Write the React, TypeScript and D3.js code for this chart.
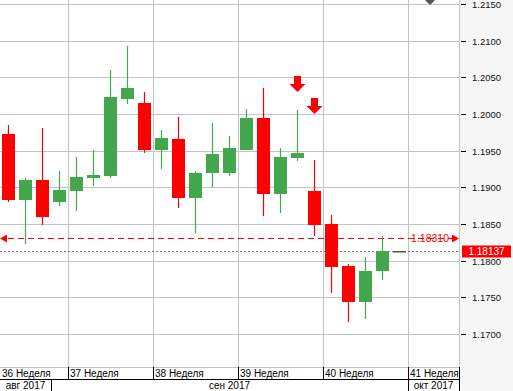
import * as d3 from "d3";

// daily EUR/USD candles, 29 aug - 29 sep 2017
const dates = [
  "2017-08-29", "2017-08-30", "2017-08-31", "2017-09-01",
  "2017-09-04", "2017-09-05", "2017-09-06", "2017-09-07", "2017-09-08",
  "2017-09-11", "2017-09-12", "2017-09-13", "2017-09-14", "2017-09-15",
  "2017-09-18", "2017-09-19", "2017-09-20", "2017-09-21", "2017-09-22",
  "2017-09-25", "2017-09-26", "2017-09-27", "2017-09-28", "2017-09-29",
];
const futureSlots = ["2017-10-02", "2017-10-03", "2017-10-04"];

const opens = [1.1973, 1.1883, 1.1910, 1.1880, 1.1895, 1.1913, 1.1915, 1.2020, 1.2015, 1.1951, 1.1966, 1.1885, 1.1919, 1.1919, 1.1951, 1.1995, 1.1891, 1.1940, 1.1895, 1.1850, 1.1793, 1.1744, 1.1786, 1.18137];
const closes = [1.1883, 1.1910, 1.1859, 1.1896, 1.1914, 1.1917, 1.2023, 1.2036, 1.1951, 1.1967, 1.1885, 1.1920, 1.1946, 1.1954, 1.1995, 1.1891, 1.1941, 1.1947, 1.1848, 1.1792, 1.1744, 1.1786, 1.18137, 1.18137];
const highs = [1.1985, 1.1913, 1.1981, 1.1922, 1.1941, 1.1951, 1.2060, 1.2093, 1.2030, 1.1978, 1.1996, 1.1922, 1.1988, 1.1970, 1.2007, 1.2036, 1.1954, 1.2006, 1.1937, 1.1862, 1.1796, 1.1805, 1.1834, 1.18137];
const lows = [1.1880, 1.1823, 1.1849, 1.1874, 1.1868, 1.1902, 1.1913, 1.2014, 1.1947, 1.1925, 1.1872, 1.1838, 1.1900, 1.1915, 1.1951, 1.1861, 1.1865, 1.1936, 1.1833, 1.1756, 1.1717, 1.1721, 1.1773, 1.18137];

const priceTicks = [1.1700, 1.1750, 1.1800, 1.1850, 1.1900, 1.1950, 1.2000, 1.2050, 1.2100, 1.2150];

const weekStarts = ["2017-08-29", "2017-09-04", "2017-09-11", "2017-09-18", "2017-09-25", "2017-10-02"];
const weekLabels = ["36 Неделя", "37 Неделя", "38 Неделя", "39 Неделя", "40 Неделя", "41 Неделя"];
const monthStarts = ["2017-08-29", "2017-09-01", "2017-10-02"];
const monthLabels = ["авг 2017", "сен 2017", "окт 2017"];

// sell signals (arrow tip price)
const signalDates = ["2017-09-21", "2017-09-22"];
const signalPrices = [1.2030, 1.2000];

const levelPrice = 1.1831;
const levelLabel = "1.18310";
const lastPrice = 1.18137;
const lastLabel = "1.18137";

const W = 513;
const H = 391;
const plotW = 459;
const plotH = 367;
const rowH = 12;

const UP = "#43a84d";
const DOWN = "#ff0000";
const GRID = "#c4c4c4";
const FONT = "'Liberation Sans', Arial, sans-serif";

export default function App() {
  const x = d3.scaleBand<string>().domain([...dates, ...futureSlots]).range([0, plotW]);
  const y = d3.scaleLinear().domain([1.17, 1.215]).range([334, 4]);
  const step = x.step();
  const bodyW = 13;
  const cx = (d: string) => Math.floor((x(d) as number) + step / 2);

  const edge = (i: number, starts: string[]) =>
    i < starts.length ? (i === 0 ? 0 : (x(starts[i]) as number)) : plotW;

  const ly = Math.round(y(levelPrice)) + 0.5;
  const py = Math.round(y(lastPrice)) + 0.5;

  return (
    <svg width={W} height={H} style={{ position: "absolute", left: 0, top: 0, display: "block" }} fontFamily={FONT}>
      <rect x={0} y={0} width={W} height={H} fill="#ffffff" />
      <rect x={plotW + 1} y={0} width={W - plotW - 1} height={H} fill="#f7f7f7" />

      {/* grid */}
      {priceTicks.map((t) => (
        <line key={t} x1={0} x2={plotW} y1={Math.round(y(t)) + 0.5} y2={Math.round(y(t)) + 0.5} stroke={GRID} />
      ))}
      {weekStarts.slice(1).map((d) => (
        <line key={d} x1={(x(d) as number) + 0.5} x2={(x(d) as number) + 0.5} y1={0} y2={plotH} stroke={GRID} />
      ))}
      <line x1={plotW + 0.5} x2={plotW + 0.5} y1={0} y2={plotH} stroke={GRID} />

      {/* reference lines */}
      <line x1={0} x2={plotW} y1={py} y2={py} stroke="#777" strokeDasharray="2,2" />
      <line x1={8} x2={452} y1={ly} y2={ly} stroke={DOWN} strokeDasharray="6,4" />
      <path d={`M0,${ly}L7,${ly - 4}L7,${ly + 4}Z`} fill={DOWN} />
      <path d={`M${plotW},${ly}L${plotW - 7},${ly - 4}L${plotW - 7},${ly + 4}Z`} fill={DOWN} />
      <text x={449} y={ly} dy="0.35em" textAnchor="end" fontSize={10.5} fill={DOWN}>{levelLabel}</text>

      {/* candles */}
      {dates.map((d, i) => {
        const o = opens[i], c = closes[i];
        const doji = o === c;
        const col = doji ? "#555" : c > o ? UP : DOWN;
        const xc = cx(d);
        const top = Math.round(y(Math.max(o, c)));
        const bot = Math.round(y(Math.min(o, c)));
        return (
          <g key={d}>
            {!doji && (
              <line x1={xc + 0.5} x2={xc + 0.5} y1={Math.round(y(highs[i]))} y2={Math.round(y(lows[i]))} stroke={col} strokeWidth={1.2} />
            )}
            <rect
              x={xc - 6}
              y={top}
              width={bodyW}
              height={Math.max(bot - top, doji ? 1.5 : 2)}
              fill={col}
            />
          </g>
        );
      })}

      {/* signal arrows */}
      {signalDates.map((d, i) => {
        const xc = cx(d) + 0.5;
        const tip = y(signalPrices[i]);
        return (
          <path
            key={d}
            d={`M${xc - 3.5},${tip - 16}H${xc + 3.5}V${tip - 8}H${xc + 8}L${xc},${tip}L${xc - 8},${tip - 8}H${xc - 3.5}Z`}
            fill={DOWN}
          />
        );
      })}

      {/* scroll marker */}
      <path d="M425,0H435L430,5Z" fill="#555" />

      {/* price axis */}
      {priceTicks.map((t) => (
        <g key={t} transform={`translate(0,${Math.round(y(t)) + 0.5})`}>
          <line x1={461} x2={466} stroke="#000" />
          <text x={472} dy="0.35em" fontSize={9.5} fill="#111">{t.toFixed(4)}</text>
        </g>
      ))}
      <rect x={462} y={py - 6} width={49} height={12} fill={DOWN} />
      <text x={486.5} y={py} dy="0.35em" textAnchor="middle" fontSize={10} fill="#fff">{lastLabel}</text>

      {/* time axis */}
      <line x1={0} x2={plotW} y1={plotH + 0.5} y2={plotH + 0.5} stroke={GRID} />
      <line x1={0} x2={plotW} y1={plotH + rowH + 0.5} y2={plotH + rowH + 0.5} stroke="#000" />
      <line x1={plotW + 0.5} x2={plotW + 0.5} y1={plotH} y2={H} stroke="#000" />
      {weekLabels.map((lab, i) => {
        const x0 = edge(i, weekStarts);
        return (
          <g key={lab}>
            {i > 0 && <line x1={x0 + 0.5} x2={x0 + 0.5} y1={plotH} y2={plotH + rowH} stroke="#000" />}
            <text x={x0 + 2} y={plotH + rowH / 2 + 0.5} dy="0.35em" fontSize={10} fill="#000">{lab}</text>
          </g>
        );
      })}
      {monthLabels.map((lab, i) => {
        const x0 = edge(i, monthStarts);
        const x1 = edge(i + 1, monthStarts);
        return (
          <g key={lab}>
            {i > 0 && <line x1={x0 + 0.5} x2={x0 + 0.5} y1={plotH + rowH} y2={H} stroke="#000" />}
            <text x={(x0 + x1) / 2} y={plotH + rowH * 1.5 + 0.5} dy="0.35em" textAnchor="middle" fontSize={10} fill="#000">{lab}</text>
          </g>
        );
      })}
    </svg>
  );
}
